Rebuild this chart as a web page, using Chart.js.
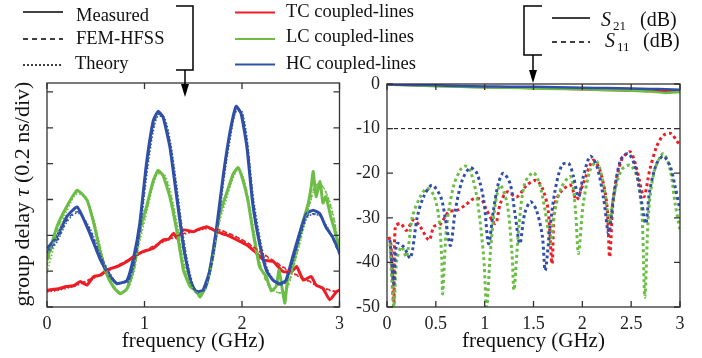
<!DOCTYPE html>
<html>
<head>
<meta charset="utf-8">
<script src="https://cdn.jsdelivr.net/npm/chart.js@4.4.1/dist/chart.umd.min.js"></script>
<style>
  html, body { margin: 0; padding: 0; background: #fff; }
  #wrap { position: relative; width: 702px; height: 358px; overflow: hidden; }
  #left { position: absolute; left: 0; top: 0; }
  #right { position: absolute; left: 350px; top: 0; }
  #over { position: absolute; left: 0; top: 0; pointer-events: none; }
</style>
</head>
<body>
<div id="wrap">
  <canvas id="left" width="350" height="358"></canvas>
  <canvas id="right" width="352" height="358"></canvas>
  <svg id="over" width="702" height="358" font-family="Liberation Serif" fill="#111">
    <!-- line style legend -->
    <line x1="23" y1="12" x2="63" y2="12" stroke="#000" stroke-width="1.5"/>
    <line x1="23" y1="39" x2="63" y2="39" stroke="#000" stroke-width="1.5" stroke-dasharray="5,4"/>
    <line x1="23" y1="65" x2="63" y2="65" stroke="#000" stroke-width="1.5" stroke-dasharray="2,2"/>
    <text x="76" y="20.5" font-size="18.5">Measured</text>
    <text x="76" y="43.5" font-size="18.5">FEM-HFSS</text>
    <text x="75" y="68.5" font-size="18.5">Theory</text>
    <polyline points="176,6 193,6 193,70 176,70" fill="none" stroke="#000" stroke-width="1.5"/>
    <line x1="185" y1="70" x2="185" y2="86" stroke="#000" stroke-width="1.5"/>
    <polygon points="181,84 189,84 185,97" fill="#000"/>
    <!-- colour legend -->
    <line x1="235" y1="12.5" x2="275" y2="12.5" stroke="#ee1c24" stroke-width="2"/>
    <line x1="235" y1="39" x2="275" y2="39" stroke="#6cbd45" stroke-width="2"/>
    <line x1="235" y1="64.5" x2="275" y2="64.5" stroke="#3050a8" stroke-width="2"/>
    <text x="286" y="16.5" font-size="18.5">TC coupled-lines</text>
    <text x="286" y="42" font-size="18.5">LC coupled-lines</text>
    <text x="286" y="68.5" font-size="18.5">HC coupled-lines</text>
    <!-- S-parameter legend -->
    <polyline points="542,6 524,6 524,55 542,55" fill="none" stroke="#000" stroke-width="1.5"/>
    <line x1="533" y1="55" x2="533" y2="72" stroke="#000" stroke-width="1.5"/>
    <polygon points="529,70 537,70 533,83" fill="#000"/>
    <line x1="552" y1="18" x2="590" y2="18" stroke="#000" stroke-width="1.5"/>
    <line x1="552" y1="42" x2="590" y2="42" stroke="#000" stroke-width="1.5" stroke-dasharray="5,4"/>
    <text x="601" y="26" font-size="20" font-style="italic">S</text>
    <text x="613" y="29.5" font-size="13">21</text>
    <text x="640" y="26" font-size="20">(dB)</text>
    <text x="605" y="47" font-size="20" font-style="italic">S</text>
    <text x="617" y="50.5" font-size="13">11</text>
    <text x="643" y="47" font-size="20">(dB)</text>
    <!-- left y title -->
    <text transform="translate(29,194) rotate(-90)" text-anchor="middle" font-size="22">group delay <tspan font-style="italic">τ</tspan> (0.2 ns/div)</text>
  </svg>
</div>
<script>
// group delay (divisions of 0.2 ns) vs frequency (GHz)
const hcFreq = [0, 0.1, 0.2, 0.31, 0.44, 0.55, 0.65, 0.72, 0.82, 0.89, 0.95, 1.02, 1.09, 1.14, 1.19, 1.26, 1.33, 1.40, 1.47, 1.53, 1.60, 1.67, 1.74, 1.81, 1.88, 1.94, 1.99, 2.05, 2.11, 2.18, 2.25, 2.32, 2.39, 2.45, 2.52, 2.59, 2.66, 2.73, 2.80, 2.86, 2.93, 3.0];
const hcMeasured = [1.63, 1.95, 2.51, 2.79, 2.05, 1.30, 0.84, 0.65, 0.74, 1.40, 2.30, 4.0, 5.2, 5.46, 5.3, 4.47, 3.07, 1.67, 0.74, 0.42, 0.47, 1.02, 2.23, 3.72, 4.93, 5.6, 5.4, 4.47, 2.88, 1.77, 1.02, 0.74, 0.65, 0.74, 1.40, 2.05, 2.6, 2.7, 2.6, 2.23, 1.95, 1.53];
const hcFem = [1.55, 1.85, 2.40, 2.66, 2.15, 1.40, 0.90, 0.68, 0.70, 1.20, 2.10, 3.75, 5.0, 5.38, 5.3, 4.6, 3.3, 1.85, 0.85, 0.45, 0.45, 0.95, 2.05, 3.55, 4.8, 5.5, 5.45, 4.65, 3.1, 1.9, 1.1, 0.75, 0.62, 0.72, 1.30, 1.95, 2.5, 2.6, 2.55, 2.25, 1.9, 1.45];
const hcTheory = [1.5, 1.8, 2.35, 2.62, 2.2, 1.45, 0.92, 0.68, 0.68, 1.15, 2.0, 3.6, 4.9, 5.32, 5.32, 4.7, 3.4, 1.95, 0.9, 0.47, 0.44, 0.9, 1.95, 3.45, 4.7, 5.45, 5.48, 4.75, 3.2, 2.0, 1.15, 0.78, 0.62, 0.7, 1.25, 1.9, 2.45, 2.58, 2.55, 2.3, 1.95, 1.5];

const lcFreq = [0, 0.1, 0.2, 0.31, 0.41, 0.48, 0.55, 0.61, 0.68, 0.75, 0.82, 0.89, 0.95, 1.02, 1.09, 1.14, 1.19, 1.26, 1.33, 1.40, 1.47, 1.53, 1.57, 1.64, 1.70, 1.77, 1.84, 1.91, 1.96, 2.01, 2.06, 2.11, 2.18, 2.25, 2.30, 2.35, 2.38, 2.42, 2.44, 2.47, 2.50, 2.54, 2.61, 2.68, 2.71, 2.73, 2.76, 2.80, 2.83, 2.86, 2.91, 2.95, 3.0];
const lcMeasured = [1.3, 2.23, 2.79, 3.26, 2.98, 2.33, 1.49, 0.93, 0.56, 0.37, 0.51, 1.12, 2.14, 2.79, 3.53, 3.81, 3.67, 3.07, 2.14, 1.02, 0.56, 0.45, 0.28, 0.65, 1.49, 2.6, 3.16, 3.72, 3.89, 3.53, 2.98, 2.14, 1.12, 0.84, 0.45, 0.57, 1.03, 0.38, 0.11, 0.85, 1.03, 1.41, 2.24, 2.90, 3.36, 3.78, 3.08, 3.50, 2.90, 3.08, 2.52, 2.15, 1.59];
const lcFem = [1.15, 2.1, 2.75, 3.2, 3.0, 2.4, 1.6, 1.0, 0.6, 0.42, 0.5, 1.0, 1.9, 2.7, 3.45, 3.75, 3.7, 3.2, 2.3, 1.2, 0.6, 0.42, 0.38, 0.6, 1.35, 2.45, 3.1, 3.65, 3.85, 3.6, 3.05, 2.25, 1.25, 0.7, 0.5, 0.42, 0.4, 0.4, 0.42, 0.6, 0.85, 1.25, 2.0, 2.75, 3.05, 3.25, 3.4, 3.45, 3.35, 3.2, 2.8, 2.35, 1.6];
const lcTheory = [0.95, 1.95, 2.65, 3.15, 3.02, 2.45, 1.65, 1.05, 0.62, 0.42, 0.48, 0.95, 1.8, 2.6, 3.4, 3.72, 3.72, 3.3, 2.4, 1.3, 0.65, 0.43, 0.38, 0.58, 1.3, 2.35, 3.0, 3.6, 3.82, 3.65, 3.1, 2.35, 1.3, 0.75, 0.52, 0.42, 0.4, 0.4, 0.41, 0.55, 0.8, 1.2, 1.95, 2.7, 3.0, 3.2, 3.35, 3.42, 3.35, 3.22, 2.85, 2.4, 1.55];

const tcFreq = [0, 0.1, 0.2, 0.28, 0.34, 0.41, 0.48, 0.55, 0.61, 0.72, 0.82, 0.89, 0.99, 1.09, 1.19, 1.25, 1.30, 1.33, 1.40, 1.50, 1.54, 1.64, 1.74, 1.84, 1.95, 2.05, 2.15, 2.22, 2.32, 2.42, 2.51, 2.56, 2.63, 2.71, 2.76, 2.83, 2.90, 2.97, 3.0];
const tcMeasured = [0.47, 0.5, 0.57, 0.6, 0.71, 0.61, 0.85, 0.89, 1.03, 1.13, 1.27, 1.41, 1.55, 1.64, 1.87, 1.9, 2.06, 1.92, 2.15, 2.10, 2.15, 2.24, 2.10, 2.01, 1.87, 1.73, 1.50, 1.31, 1.27, 0.99, 0.99, 1.13, 0.75, 0.85, 0.61, 0.52, 0.2, 0.43, 0.47];
const tcFem = [0.45, 0.48, 0.54, 0.6, 0.66, 0.74, 0.82, 0.92, 1.0, 1.15, 1.3, 1.4, 1.55, 1.7, 1.83, 1.9, 1.95, 1.98, 2.05, 2.12, 2.15, 2.2, 2.18, 2.08, 1.95, 1.8, 1.62, 1.48, 1.3, 1.12, 0.97, 0.9, 0.8, 0.7, 0.62, 0.54, 0.48, 0.43, 0.42];
const tcTheory = [0.42, 0.46, 0.52, 0.58, 0.64, 0.72, 0.8, 0.9, 0.98, 1.13, 1.28, 1.38, 1.53, 1.68, 1.81, 1.88, 1.93, 1.96, 2.03, 2.1, 2.13, 2.18, 2.17, 2.07, 1.94, 1.79, 1.6, 1.46, 1.28, 1.1, 0.95, 0.88, 0.78, 0.68, 0.6, 0.52, 0.46, 0.42, 0.41];

// S-parameters (dB)
const s21Freq = [0, 0.25, 0.5, 0.75, 1.0, 1.25, 1.5, 1.75, 2.0, 2.25, 2.5, 2.7, 2.85, 3.0];
const hcS21 = [-0.1, -0.2, -0.3, -0.45, -0.55, -0.6, -0.6, -0.75, -0.85, -0.9, -1.0, -1.1, -1.2, -1.3];
const lcS21 = [-0.1, -0.3, -0.5, -0.6, -0.8, -0.85, -1.0, -1.1, -1.2, -1.35, -1.5, -1.7, -2.0, -1.8];
const tcS21 = [-0.05, -0.25, -0.4, -0.55, -0.7, -0.8, -0.9, -1.0, -1.2, -1.35, -1.5, -1.55, -1.65, -1.6];

const hcS11Freq = [0.03, 0.07, 0.10, 0.17, 0.24, 0.31, 0.375, 0.46, 0.55, 0.60, 0.65, 0.70, 0.77, 0.85, 0.92, 0.99, 1.04, 1.09, 1.14, 1.19, 1.26, 1.31, 1.36, 1.41, 1.47, 1.53, 1.59, 1.62, 1.67, 1.72, 1.79, 1.86, 1.91, 1.96, 2.01, 2.08, 2.15, 2.22, 2.27, 2.32, 2.39, 2.47, 2.54, 2.61, 2.65, 2.69, 2.76, 2.83, 2.90, 2.95, 3.0];
const hcS11 = [-35, -44.8, -35.8, -36.5, -39, -29.8, -25.3, -22.7, -25.3, -30.5, -36.2, -28.3, -21.6, -18.8, -20, -26, -35.8, -28.3, -22.3, -20, -22.3, -29, -35.8, -29, -26.4, -28.3, -34, -41.8, -32, -24, -18.2, -17.8, -20.8, -25.3, -20.8, -16.2, -18.5, -26, -33.5, -25.3, -17.1, -15.6, -18.5, -26.8, -31.3, -23.9, -17.9, -16.2, -18.5, -23, -28.3];
const lcS11Freq = [0.03, 0.07, 0.10, 0.15, 0.20, 0.26, 0.34, 0.41, 0.48, 0.53, 0.56, 0.57, 0.61, 0.68, 0.75, 0.80, 0.85, 0.92, 0.99, 1.02, 1.06, 1.11, 1.16, 1.23, 1.28, 1.30, 1.35, 1.41, 1.50, 1.57, 1.64, 1.67, 1.72, 1.79, 1.88, 1.93, 1.96, 2.01, 2.08, 2.15, 2.22, 2.26, 2.28, 2.32, 2.40, 2.49, 2.56, 2.61, 2.64, 2.68, 2.74, 2.83, 2.90, 2.95, 3.0];
const lcS11 = [-35.8, -50, -39.5, -36.5, -38.8, -29.8, -25.3, -23.4, -25, -29.8, -38.8, -47, -32, -23, -19.3, -18.4, -19.3, -25.3, -38.8, -50, -37.3, -26.8, -22.7, -26.8, -38, -46.2, -32, -22.3, -19.9, -23, -31.3, -35.8, -28.3, -23, -20.8, -28.3, -38, -26.8, -19.3, -17.4, -23, -29, -31.3, -25.3, -19.3, -18.2, -20.8, -29, -47.8, -28.3, -19.3, -15.6, -19.3, -26.8, -32.8];
const tcS11Freq = [0.02, 0.04, 0.07, 0.085, 0.14, 0.20, 0.27, 0.34, 0.43, 0.48, 0.55, 0.63, 0.72, 0.80, 0.89, 0.97, 1.02, 1.11, 1.16, 1.23, 1.33, 1.43, 1.53, 1.60, 1.65, 1.69, 1.72, 1.79, 1.88, 1.94, 2.01, 2.11, 2.18, 2.25, 2.28, 2.32, 2.40, 2.49, 2.56, 2.63, 2.69, 2.76, 2.83, 2.91, 2.97, 3.0];
const tcS11 = [-34.3, -36, -49, -32, -31.3, -32.8, -30.5, -32, -35, -32, -31.3, -28.7, -28.3, -27.2, -25.7, -26, -28.3, -31.3, -26.8, -24.2, -25.3, -22.7, -21.6, -23.9, -28.3, -40.3, -26.8, -23.9, -22.7, -26, -22.3, -17.1, -19.3, -26.8, -38.8, -25.3, -17.1, -15.2, -19.3, -25.3, -19.3, -14.1, -11.5, -11.1, -12.9, -13.5];

const refFreq = [0, 3];
const refLevel = [-10, -10];

const RED = '#ee1c24', GREEN = '#6cbd45', BLUE = '#3050a8';
const SERIF = "'Liberation Serif', 'Times New Roman', serif";

function pts(xs, ys) {
  return xs.map((x, i) => ({ x: x, y: ys[i] }));
}

function measured(xs, ys, color) {
  return { data: pts(xs, ys), borderColor: color, borderWidth: 3, tension: 0.15, pointRadius: 0 };
}
function fem(xs, ys, color) {
  return { data: pts(xs, ys), borderColor: color, borderWidth: 1.5, borderDash: [4, 3], cubicInterpolationMode: 'monotone', pointRadius: 0 };
}
function theory(xs, ys, color) {
  return { data: pts(xs, ys), borderColor: color, borderWidth: 1.5, borderDash: [1.5, 2], cubicInterpolationMode: 'monotone', pointRadius: 0 };
}
function s11(xs, ys, color) {
  return { data: pts(xs, ys), borderColor: color, borderWidth: 3, borderDash: [3, 3], borderCapStyle: 'butt', tension: 0.3, pointRadius: 0 };
}
function s21(xs, ys, color) {
  return { data: pts(xs, ys), borderColor: color, borderWidth: 2.5, tension: 0.2, pointRadius: 0 };
}

// box with inward ticks on all four sides
const frameTicks = {
  id: 'frameTicks',
  afterDatasetsDraw(chart) {
    const { ctx, chartArea: a, scales } = chart;
    const len = 6;
    ctx.save();
    ctx.strokeStyle = '#333';
    ctx.lineWidth = 1.3;
    ctx.beginPath();
    scales.x.ticks.forEach(t => {
      const px = scales.x.getPixelForValue(t.value);
      ctx.moveTo(px, a.bottom); ctx.lineTo(px, a.bottom - len);
      ctx.moveTo(px, a.top); ctx.lineTo(px, a.top + len);
    });
    scales.y.ticks.forEach(t => {
      const py = scales.y.getPixelForValue(t.value);
      ctx.moveTo(a.left, py); ctx.lineTo(a.left + len, py);
      ctx.moveTo(a.right, py); ctx.lineTo(a.right - len, py);
    });
    ctx.stroke();
    ctx.strokeRect(a.left, a.top, a.right - a.left, a.bottom - a.top);
    ctx.restore();
  }
};

function xAxis(step) {
  return {
    type: 'linear', min: 0, max: 3,
    grid: { display: false, drawTicks: false },
    border: { display: false },
    ticks: { stepSize: step, padding: 6, color: '#222', font: { family: SERIF, size: 18 },
      callback: v => String(v) },
    title: { display: true, text: 'frequency (GHz)', color: '#111', font: { family: SERIF, size: 21 }, padding: { top: 0, bottom: 4 } },
    afterFit: s => { s.height = 51; }
  };
}

const common = {
  responsive: false,
  animation: false,
  plugins: { legend: { display: false }, tooltip: { enabled: false } }
};

new Chart(document.getElementById('left'), {
  type: 'line',
  data: {
    datasets: [
      fem(hcFreq, hcFem, BLUE), theory(hcFreq, hcTheory, BLUE),
      fem(lcFreq, lcFem, GREEN), theory(lcFreq, lcTheory, GREEN),
      fem(tcFreq, tcFem, RED), theory(tcFreq, tcTheory, RED),
      measured(hcFreq, hcMeasured, BLUE),
      measured(lcFreq, lcMeasured, GREEN),
      measured(tcFreq, tcMeasured, RED)
    ]
  },
  options: Object.assign({}, common, {
    layout: { padding: { top: 83, right: 10, left: 0, bottom: 0 } },
    scales: {
      x: xAxis(1),
      y: {
        type: 'linear', min: 0, max: 6.25,
        grid: { display: false, drawTicks: false },
        border: { display: false },
        ticks: { display: false, stepSize: 1, includeBounds: false },
        afterFit: s => { s.width = 47; }
      }
    }
  }),
  plugins: [frameTicks]
});

new Chart(document.getElementById('right'), {
  type: 'line',
  data: {
    datasets: [
      { data: pts(refFreq, refLevel), borderColor: '#111', borderWidth: 1, borderDash: [4, 3], pointRadius: 0 },
      s11(hcS11Freq, hcS11, BLUE),
      s11(lcS11Freq, lcS11, GREEN),
      s11(tcS11Freq, tcS11, RED),
      s21(s21Freq, hcS21, BLUE),
      s21(s21Freq, lcS21, GREEN),
      s21(s21Freq, tcS21, RED)
    ]
  },
  options: Object.assign({}, common, {
    layout: { padding: { top: 84, right: 22, left: 0, bottom: 0 } },
    scales: {
      x: xAxis(0.5),
      y: {
        type: 'linear', min: -50, max: 0,
        grid: { display: false, drawTicks: false },
        border: { display: false },
        ticks: { stepSize: 10, padding: 7, color: '#222', font: { family: SERIF, size: 18 },
          callback: v => String(v) },
        afterFit: s => { s.width = 37; }
      }
    }
  }),
  plugins: [frameTicks]
});
</script>
</body>
</html>
